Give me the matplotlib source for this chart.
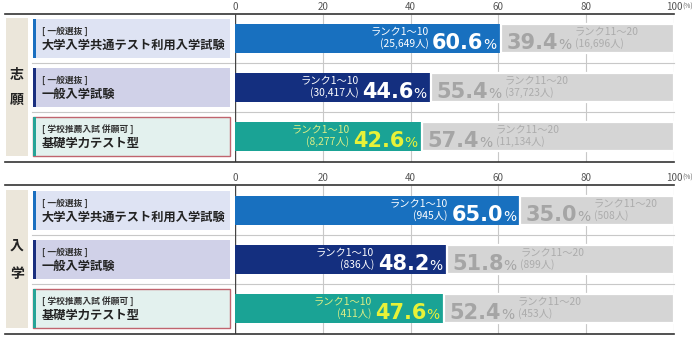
import matplotlib
matplotlib.use("Agg")
import matplotlib.pyplot as plt
from matplotlib.transforms import blended_transform_factory
from matplotlib.patches import Rectangle
from matplotlib.lines import Line2D

plt.rcParams['font.family'] = ['Noto Sans CJK JP', 'DejaVu Sans']

# ---------------- data ----------------
panels = ["志願", "入学"]
tags = ["[ 一般選抜 ]", "[ 一般選抜 ]", "[ 学校推薦入試 併願可 ]"]
categories = ["大学入学共通テスト利用入学試験", "一般入学試験", "基礎学力テスト型"]
rank_top_label = "ランク1～10"
rank_rest_label = "ランク11～20"

shigan_top = [60.6, 44.6, 42.6]
shigan_rest = [39.4, 55.4, 57.4]
shigan_top_n = ["25,649", "30,417", "8,277"]
shigan_rest_n = ["16,696", "37,723", "11,134"]

nyugaku_top = [65.0, 48.2, 47.6]
nyugaku_rest = [35.0, 51.8, 52.4]
nyugaku_top_n = ["945", "836", "411"]
nyugaku_rest_n = ["508", "899", "453"]

xticks = [0, 20, 40, 60, 80, 100]

# ---------------- style ----------------
bar_colors = ["#1870bf", "#142f7f", "#1aa395"]
gray_bar = "#d5d5d5"
box_colors = ["#dee3f3", "#d0d1e8", "#e3f1ee"]
accent_colors = ["#1a6fc0", "#1a2f7f", "#27a497"]
num_colors = ["white", "white", "#e8f238"]
small_colors = ["white", "white", "#dcee86"]
gray_text = "#a5a5a5"
beige = "#ebe6da"
num_font = "DejaVu Sans"

W, H = 700, 338
fig = plt.figure(figsize=(7, 3.38), dpi=100)
fig.patch.set_facecolor("white")

panel_px = [(14, 162), (185, 334)]
panel_data = [(shigan_top, shigan_rest, shigan_top_n, shigan_rest_n),
              (nyugaku_top, nyugaku_rest, nyugaku_top_n, nyugaku_rest_n)]

x0_px, x1_px = 235, 674
unit = 49.0
base_off = -7.5  # baseline offset (points) below bar centre

for p, ((top_px, bot_px), (top_v, rest_v, top_n, rest_n)) in enumerate(zip(panel_px, panel_data)):
    ax = fig.add_axes([x0_px / W, 1 - bot_px / H, (x1_px - x0_px) / W, (bot_px - top_px) / H])
    ytop = -0.5 if p == 0 else -0.52
    ybot = ytop + (bot_px - top_px) / unit
    ax.set_ylim(ybot, ytop)
    ax.set_xlim(0, 100)
    for s in ax.spines.values():
        s.set_visible(False)
    ax.xaxis.tick_top()
    ax.set_xticks(xticks)
    ax.set_xticklabels([str(t) for t in xticks], fontsize=7, color="#555555")
    ax.tick_params(axis="x", length=0, pad=1.5)
    ax.set_yticks([])
    ax.patch.set_alpha(0)

    # gridlines
    ax.vlines(xticks[1:], ybot, ytop, color="#c8c8c8", lw=0.8, zorder=0)
    ax.vlines([0], ybot, ytop, color="#444444", lw=1.0, zorder=0)

    ax.annotate("(%)", xy=(100, 1.0), xycoords=("data", "axes fraction"),
                xytext=(6.2, 5.6), textcoords="offset points", fontsize=4.8,
                color="#666666", ha="left", va="center")

    bt = blended_transform_factory(fig.transFigure, ax.transData)
    ba = blended_transform_factory(fig.transFigure, ax.transAxes)

    # top/bottom rules
    for yy in (1.0, 0.0):
        fig.add_artist(Line2D([5 / W, x1_px / W], [yy, yy], transform=ba, color="#333333", lw=1.2))
    # row separators
    for ysep in (0.5, 1.5):
        fig.add_artist(Line2D([32 / W, x1_px / W], [ysep, ysep], transform=bt, color="#c8c8c8",
                              lw=0.8, zorder=0))

    # beige panel label column
    fig.add_artist(Rectangle((6 / W, -0.41), 22 / W, 2.81, transform=bt, facecolor=beige,
                             edgecolor="none", zorder=1))
    sp = 0.26 if p == 0 else 0.29
    for k, ch in enumerate(panels[p]):
        fig.text(17 / W, 1.0 + (k * 2 - 1) * sp, ch, transform=bt, ha="center", va="center",
                 fontsize=10, fontweight="bold", color="#222222")

    ys = list(range(len(categories)))
    ax.barh(ys, top_v, height=0.59, color=bar_colors, zorder=2)
    ax.barh(ys, rest_v, left=top_v, height=0.59, color=gray_bar, edgecolor="white", lw=1.6, zorder=2)

    for i, y in enumerate(ys):
        # category box
        fig.add_artist(Rectangle((33 / W, y - 0.39), 197 / W, 0.78, transform=bt,
                                 facecolor=box_colors[i],
                                 edgecolor="#c0646e" if i == 2 else "none", lw=1.0, zorder=1))
        fig.add_artist(Rectangle((33 / W, y - 0.39), 3 / W, 0.78, transform=bt,
                                 facecolor=accent_colors[i], edgecolor="none", zorder=2))
        fig.text(42 / W, y - 0.145, tags[i], transform=bt, ha="left", va="center",
                 fontsize=6.3, fontweight="bold", color="#333333")
        fig.text(42 / W, y + 0.145, categories[i], transform=bt, ha="left", va="center",
                 fontsize=8.8, fontweight="bold", color="#222222")

        # colored side labels
        pct = ax.annotate("%", xy=(top_v[i], y), xytext=(-3.2, base_off), textcoords="offset points",
                          ha="right", va="baseline", fontsize=10, color=num_colors[i],
                          family=num_font, zorder=3)
        num = ax.annotate(f"{top_v[i]:.1f}", xy=(0, y), xycoords=(pct, "data"),
                          xytext=(0, base_off), textcoords="offset points",
                          ha="right", va="baseline", fontsize=15, color=num_colors[i],
                          family=num_font, fontweight="bold", zorder=3)
        ax.annotate(f"{rank_top_label}\n({top_n[i]}人)", xy=(0, y), xycoords=(num, "data"),
                    xytext=(-2.5, 0.3), textcoords="offset points", ha="right", va="center",
                    multialignment="right", fontsize=7.4, linespacing=1.0,
                    color=small_colors[i], zorder=3)

        # gray side labels
        gnum = ax.annotate(f"{rest_v[i]:.1f}", xy=(top_v[i], y), xytext=(4.0, base_off),
                           textcoords="offset points", ha="left", va="baseline", fontsize=15,
                           color=gray_text, family=num_font, fontweight="bold", zorder=3)
        gpct = ax.annotate("%", xy=(1, y), xycoords=(gnum, "data"), xytext=(0, base_off),
                           textcoords="offset points", ha="left", va="baseline", fontsize=10,
                           color=gray_text, family=num_font, zorder=3)
        ax.annotate(f"{rank_rest_label}\n({rest_n[i]}人)", xy=(1, y), xycoords=(gpct, "data"),
                    xytext=(2.5, 0.3), textcoords="offset points", ha="left", va="center",
                    multialignment="left", fontsize=7.4, linespacing=1.0,
                    color="#acacac", zorder=3)

fig.savefig("out.png", dpi=100, facecolor="white")
